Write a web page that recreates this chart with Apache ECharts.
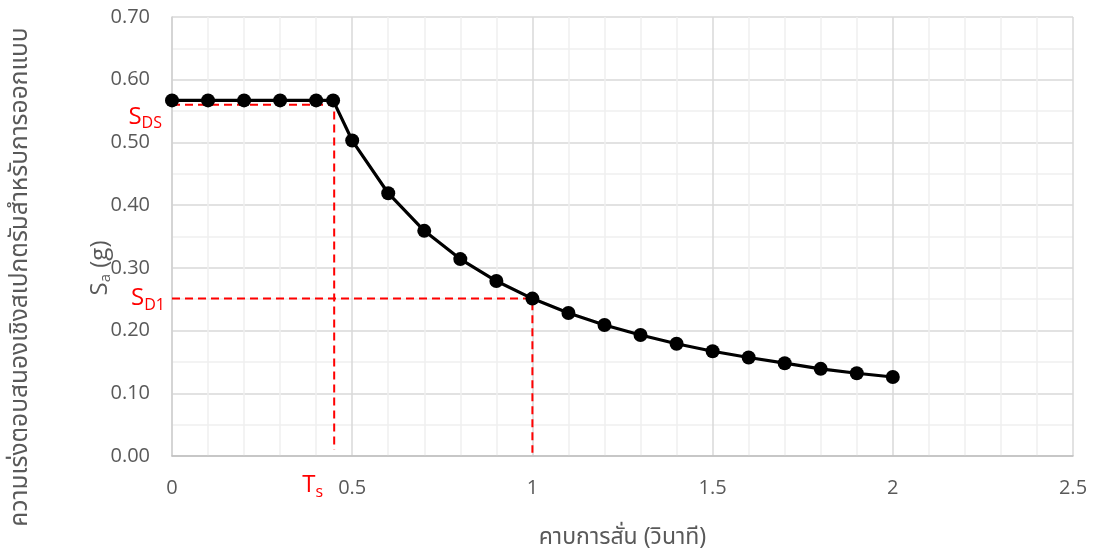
<!DOCTYPE html>
<html>
<head>
<meta charset="utf-8">
<script src="https://cdn.jsdelivr.net/npm/echarts@6/dist/echarts.min.js"></script>
<style>
html,body{margin:0;padding:0;background:#fff;}
#chart{width:1097px;height:551px;}
</style>
</head>
<body>
<div id="chart"></div>
<script>
// ---- data ----
const periods = [0, 0.1, 0.2, 0.3, 0.4, 0.447, 0.5, 0.6, 0.7, 0.8, 0.9, 1.0, 1.1, 1.2, 1.3, 1.4, 1.5, 1.6, 1.7, 1.8, 1.9, 2.0];
const sa = [0.567, 0.567, 0.567, 0.567, 0.567, 0.567, 0.503, 0.419, 0.359, 0.314, 0.279, 0.251, 0.228, 0.209, 0.193, 0.179, 0.167, 0.157, 0.148, 0.139, 0.132, 0.126];
const SDS = 0.56;
const SD1 = 0.251;
const Ts = 0.45;
const T1 = 1.0;
const xTitle = 'คาบการสั่น (วินาที)';
const yTitle = 'ความเร่งตอบสนองเชิงสเปกตรัมสำหรับการออกแบบ';
const ySubTitle = ['S', 'a', ' (g)'];

const FONT = "'Open Sans', 'Noto Sans', 'Noto Sans Thai', 'Liberation Sans', sans-serif";
const THAI = "'Noto Sans Thai', 'Noto Sans', 'Open Sans', 'DejaVu Sans', sans-serif";
const GREY = '#595959';
const RED = '#ff0000';

const curve = periods.map((t, i) => [t, sa[i]]);
const sdsLine = [[0, SDS], [Ts, SDS], [Ts, 0.01]];
const sd1Line = [[0, SD1], [T1, SD1], [T1, 0.005]];

const chart = echarts.init(document.getElementById('chart'), null, {renderer: 'canvas'});

const option = {
  animation: false,
  backgroundColor: '#fff',
  grid: {left: 172, right: 24, top: 17, bottom: 95, containLabel: false, outerBoundsMode: 'none'},
  xAxis: {
    type: 'value', min: 0, max: 2.5, interval: 0.5,
    axisLine: {show: true, onZero: false, lineStyle: {color: '#bfbfbf', width: 1.5}},
    axisTick: {show: false},
    axisLabel: {color: GREY, fontSize: 20, fontFamily: FONT, margin: 22,
      formatter: v => String(Math.round(v * 10) / 10)},
    splitLine: {show: true, lineStyle: {color: '#d9d9d9', width: 1.5}},
    minorTick: {show: false, splitNumber: 5},
    minorSplitLine: {show: true, lineStyle: {color: '#efefef', width: 1.5}},
    name: xTitle, nameLocation: 'middle', nameGap: 72,
    nameTextStyle: {color: GREY, fontSize: 23, fontFamily: THAI}
  },
  yAxis: {
    type: 'value', min: 0, max: 0.7, interval: 0.1,
    axisLine: {show: true, lineStyle: {color: '#d0d0d0', width: 1.5}},
    axisTick: {show: false},
    axisLabel: {color: GREY, fontSize: 20, fontFamily: FONT, margin: 22,
      formatter: v => v.toFixed(2)},
    splitLine: {show: true, lineStyle: {color: '#d9d9d9', width: 1.5}},
    minorTick: {show: false, splitNumber: 2},
    minorSplitLine: {show: true, lineStyle: {color: '#efefef', width: 1.5}}
  },
  series: [
    {
      type: 'line', data: sdsLine, symbol: 'none', z: 2,
      lineStyle: {color: RED, width: 2, type: [8, 5]}
    },
    {
      type: 'line', data: sd1Line, symbol: 'none', z: 2,
      lineStyle: {color: RED, width: 2, type: [8, 5]}
    },
    {
      type: 'line', data: curve, symbol: 'circle', symbolSize: 14, z: 3,
      lineStyle: {color: '#000', width: 3.2},
      itemStyle: {color: '#000'}
    }
  ]
};
chart.setOption(option);

function px(x, y) { return chart.convertToPixel({gridIndex: 0}, [x, y]); }
const pSDS = px(0, SDS);
const pSD1 = px(0, SD1);
const pTs = px(Ts, 0);

const subRich = {
  b: {fontSize: 24, fontFamily: FONT, fill: RED},
  s: {fontSize: 16, fontFamily: FONT, fill: RED, padding: [14, 0, 0, 0]}
};

chart.setOption({
  graphic: [
    {
      type: 'text', x: pSDS[0] - 10, y: pSDS[1] + 12,
      style: {text: '{b|S}{s|DS}', rich: subRich, align: 'right', verticalAlign: 'middle'}
    },
    {
      type: 'text', x: pSD1[0] - 7, y: pSD1[1],
      style: {text: '{b|S}{s|D1}', rich: subRich, align: 'right', verticalAlign: 'middle'}
    },
    {
      type: 'text', x: pTs[0] - 11, y: pTs[1] + 29,
      style: {text: '{b|T}{s|s}', rich: subRich, align: 'right', verticalAlign: 'middle'}
    },
    {
      type: 'text', x: 22, y: 277, rotation: Math.PI / 2,
      style: {text: yTitle, fontSize: 24.5, fontFamily: THAI, fill: GREY, align: 'center', verticalAlign: 'middle'}
    },
    {
      type: 'text', x: 100, y: 268, rotation: Math.PI / 2,
      style: {
        text: '{m|' + ySubTitle[0] + '}{sub|' + ySubTitle[1] + '}{m|' + ySubTitle[2] + '}',
        align: 'center', verticalAlign: 'middle',
        rich: {
          m: {fontSize: 24, fontFamily: FONT, fill: GREY},
          sub: {fontSize: 15, fontFamily: FONT, fill: GREY, padding: [12, 0, 0, 0]}
        }
      }
    }
  ]
});
</script>
</body>
</html>
